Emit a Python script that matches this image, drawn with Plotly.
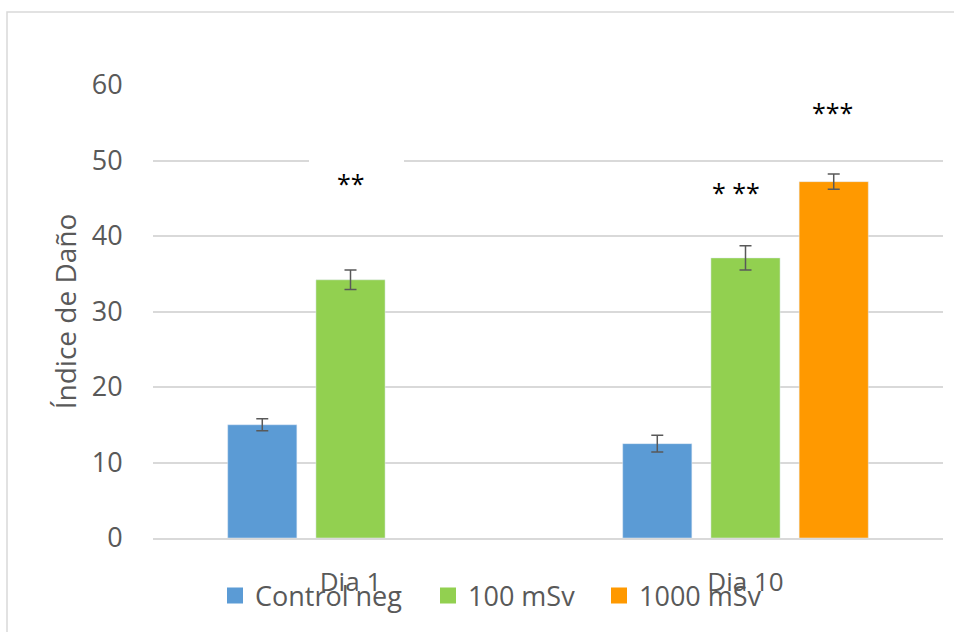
import plotly.graph_objects as go

categories = ["Dia 1", "Dia 10"]
series_names = ["Control neg", "100 mSv", "1000 mSv"]
control_vals = [15.0, 12.5]
control_err = [0.8, 1.1]
msv100_vals = [34.2, 37.1]
msv100_err = [1.3, 1.6]
msv1000_vals = [None, 47.2]
msv1000_err = [None, 1.0]
colors = ["#5B9BD5", "#92D050", "#FF9900"]

sig_labels = ["**", "* **", "***"]
sig_x = ["Dia 1", "Dia 10", "Dia 10"]
sig_y = [47.0, 45.8, 56.4]
sig_shift = [0, -10, 87]

yticks = [0, 10, 20, 30, 40, 50, 60]

W, H = 954, 632
ML, MR, MT, MB = 153, 11, 85, 94
PW, PH = W - ML - MR, H - MT - MB

fig = go.Figure()
vals = [control_vals, msv100_vals, msv1000_vals]
errs = [control_err, msv100_err, msv1000_err]
for name, v, e, c in zip(series_names, vals, errs, colors):
    fig.add_trace(go.Bar(
        x=categories, y=v, name=name, marker_color=c, showlegend=False,
        error_y=dict(type="data", array=e, visible=True, color="#595959",
                     thickness=1.5, width=6),
    ))
legend_widths = [168, 126, 130]
for name, c, lw in zip(series_names, colors, legend_widths):
    fig.add_trace(go.Scatter(
        x=[None], y=[None], mode="markers", name=name, legendwidth=lw,
        marker=dict(symbol="square", size=16, color=c),
    ))

for lab, xx, yy, sh in zip(sig_labels, sig_x, sig_y, sig_shift):
    fig.add_annotation(x=xx, y=yy, text=lab, showarrow=False, xshift=sh,
                       font=dict(family="Open Sans", size=25, color="#000000"))

def px_x(p):
    return (p - ML) / PW

def px_y(p):
    return (H - MB - p) / PH

# white text-box patch over the 50 gridline
fig.add_shape(type="rect", xref="paper", yref="paper",
              x0=px_x(309), x1=px_x(404), y0=px_y(163), y1=px_y(157),
              fillcolor="white", line=dict(width=0), layer="above")
# outer chart border
fig.add_shape(type="rect", xref="paper", yref="paper",
              x0=px_x(7), x1=px_x(1000), y0=px_y(700), y1=px_y(12),
              fillcolor="rgba(0,0,0,0)", line=dict(color="#D9D9D9", width=1.5),
              layer="below")

fig.update_layout(
    width=W, height=H,
    margin=dict(l=ML, r=MR, t=MT, b=MB),
    paper_bgcolor="white", plot_bgcolor="white",
    barmode="group", bargap=0.33, bargroupgap=0.216,
    font=dict(family="Open Sans", color="#595959"),
    showlegend=True,
    legend=dict(orientation="h", x=px_x(215), xanchor="left",
                y=px_y(596), yanchor="middle",
                font=dict(size=27, color="#595959"),
                bgcolor="rgba(0,0,0,0)", itemclick=False),
    xaxis=dict(type="category", showgrid=False, showline=True,
               linecolor="#D9D9D9", linewidth=1.5,
               ticks="outside", ticklen=20, tickcolor="rgba(0,0,0,0)",
               tickfont=dict(size=26, color="#595959")),
    yaxis=dict(range=[0, 60], tickvals=yticks, showgrid=True,
               gridcolor="#D9D9D9", gridwidth=1.5, zeroline=False,
               showline=False, ticks="outside", ticklen=24,
               tickcolor="rgba(0,0,0,0)",
               tickfont=dict(size=27, color="#595959"),
               title=dict(text="Índice de Daño", standoff=6,
                          font=dict(size=28, color="#595959"))),
)

fig.write_html("out.html", config={"displayModeBar": False})

# remove default browser body margin so the figure sits at the page origin
with open("out.html", "r", encoding="utf-8") as f:
    html = f.read()
html = html.replace("<head>", "<head><style>html,body{margin:0;padding:0;}</style>", 1)
with open("out.html", "w", encoding="utf-8") as f:
    f.write(html)
